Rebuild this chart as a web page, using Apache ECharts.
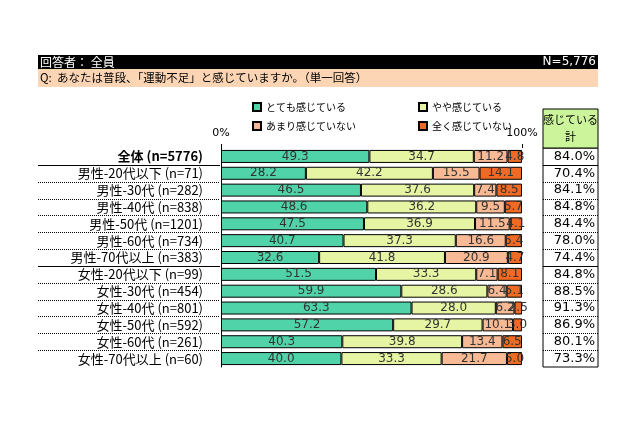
<!DOCTYPE html>
<html><head><meta charset="utf-8">
<script src="https://cdn.jsdelivr.net/npm/echarts@6/dist/echarts.min.js"></script>
<style>html,body{margin:0;padding:0;background:#fff}#c{width:640px;height:426px}</style>
</head><body><div id="c"></div>
<script>
const categories = ['全体 (n=5776)','男性-20代以下 (n=71)','男性-30代 (n=282)','男性-40代 (n=838)','男性-50代 (n=1201)','男性-60代 (n=734)','男性-70代以上 (n=383)','女性-20代以下 (n=99)','女性-30代 (n=454)','女性-40代 (n=801)','女性-50代 (n=592)','女性-60代 (n=261)','女性-70代以上 (n=60)'];
const seriesNames = ['とても感じている','やや感じている','あまり感じていない','全く感じていない'];
const veryMuch   = [49.3,28.2,46.5,48.6,47.5,40.7,32.6,51.5,59.9,63.3,57.2,40.3,40.0];
const somewhat   = [34.7,42.2,37.6,36.2,36.9,37.3,41.8,33.3,28.6,28.0,29.7,39.8,33.3];
const notMuch    = [11.2,15.5,7.4,9.5,11.5,16.6,20.9,7.1,6.4,6.2,10.1,13.4,21.7];
const notAtAll   = [4.8,14.1,8.5,5.7,4.1,5.4,4.7,8.1,5.1,2.5,3.0,6.5,5.0];
const totals     = [84.0,70.4,84.1,84.8,84.4,78.0,74.4,84.8,88.5,91.3,86.9,80.1,73.3];
const xTicks = [0, 100];
const solidAfter = [0, 6];   // rows followed by a solid separator

const colors = ['#50d3a8','#e6f5a3','#f8b995','#ef6a22'];
const jp = '"Noto Sans CJK JP", sans-serif';
const num = '"DejaVu Sans", sans-serif';
const T = 148, B = 59;

const chart = echarts.init(document.getElementById('c'));
function mk(i, data) {
  return {
    name: seriesNames[i], type: 'bar', stack: 's', xAxisIndex: 0, yAxisIndex: 0,
    data: data, barWidth: 13, animation: false,
    itemStyle: { color: colors[i], borderColor: '#000', borderWidth: 1 },
    label: { show: true, position: 'inside', formatter: p => p.value.toFixed(1),
      color: '#333', fontFamily: num, fontSize: 12 },
    labelLayout: { hideOverlap: false }
  };
}
const legendItem = (i, left, top) => ({
  data: [seriesNames[i]], left: left, top: top, icon: 'rect', itemWidth: 8, itemHeight: 8,
  itemGap: 3, selectedMode: false,
  textStyle: { fontFamily: jp, fontSize: 10, color: '#000' }
});

chart.setOption({
  animation: false,
  grid: [
    { left: 221, right: 118, top: T, bottom: B },
    { left: 543, right: 42, top: T, bottom: B, show: true, borderColor: '#000', borderWidth: 1, backgroundColor: 'transparent' }
  ],
  xAxis: [
    { gridIndex: 0, type: 'value', position: 'top', min: xTicks[0], max: xTicks[1], interval: 100,
      axisLabel: { formatter: '{value}%', color: '#000', fontFamily: num, fontSize: 11, margin: 9 },
      axisLine: { show: false }, axisTick: { show: true, length: 4, lineStyle: { color: '#000' } },
      splitLine: { show: false } },
    { gridIndex: 1, type: 'value', show: false }
  ],
  yAxis: [
    { gridIndex: 0, type: 'category', inverse: true, data: categories,
      axisLine: { show: true, lineStyle: { color: '#000', width: 1 } }, axisTick: { show: false },
      axisLabel: { interval: 0, margin: 18, color: '#000', fontFamily: jp, fontSize: 13,
        formatter: (v, i) => i === 0 ? '{b|' + v + '}' : v,
        rich: { b: { fontWeight: 'bold', fontFamily: jp, fontSize: 13, color: '#000' } } } },
    { gridIndex: 1, type: 'category', inverse: true, position: 'right',
      data: totals.map(v => v.toFixed(1) + '%'),
      axisLine: { show: false }, axisTick: { show: false },
      axisLabel: { interval: 0, inside: true, margin: 3, color: '#000', fontFamily: num, fontSize: 13 },
      splitLine: { show: false } }
  ],
  legend: [
    legendItem(0, 247, 97), legendItem(1, 413, 97),
    legendItem(2, 247, 116), legendItem(3, 413, 116)
  ],
  series: [mk(0, veryMuch), mk(1, somewhat), mk(2, notMuch), mk(3, notAtAll)]
});

const graphics = [
  { type: 'rect', shape: { x: 38, y: 55, width: 560, height: 14 }, style: { fill: '#000' } },
  { type: 'text', x: 40, y: 62, style: { text: '回答者： 全員', fill: '#fff', font: '12px "Noto Sans CJK JP"', verticalAlign: 'middle' } },
  { type: 'text', x: 596, y: 62, style: { text: 'N=5,776', fill: '#fff', font: '12px "DejaVu Sans"', align: 'right', verticalAlign: 'middle' } },
  { type: 'rect', shape: { x: 38, y: 69, width: 560, height: 18 }, style: { fill: '#fcd5b5' } },
  { type: 'text', x: 40, y: 78, style: { text: 'Q:  あなたは普段、「運動不足」と感じていますか。（単一回答）', fill: '#000', font: '11.5px "Noto Sans CJK JP"', verticalAlign: 'middle' } },
  { type: 'rect', shape: { x: 543, y: 109, width: 55, height: 39 }, style: { fill: '#ccf59b', stroke: '#000', lineWidth: 1 } },
  { type: 'text', x: 570.5, y: 128.5, style: { text: '感じている\n計', fill: '#000', font: '11px "Noto Sans CJK JP"', align: 'center', verticalAlign: 'middle', lineHeight: 17 } }
];

// Row separators, placed at the category boundaries given by the axis scale
const y0 = chart.convertToPixel({ yAxisIndex: 0 }, 0);
const y1 = chart.convertToPixel({ yAxisIndex: 0 }, 1);
const band = y1 - y0;
for (let i = 0; i < categories.length - 1; i++) {
  const y = Math.round(chart.convertToPixel({ yAxisIndex: 0 }, i) + band / 2) + 0.5;
  const solid = solidAfter.indexOf(i) >= 0;
  const ls = { stroke: '#000', lineWidth: 1, lineDash: solid ? null : [1, 1] };
  graphics.push({ type: 'line', shape: { x1: 38, y1: y, x2: 220, y2: y }, style: ls, z: 5 });
  graphics.push({ type: 'line', shape: { x1: 543, y1: y, x2: 598, y2: y }, style: ls, z: 5 });
}
chart.setOption({ graphic: graphics });
</script></body></html>
